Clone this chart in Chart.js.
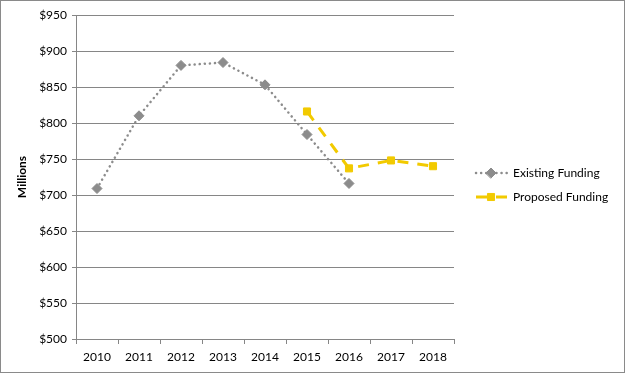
<!DOCTYPE html>
<html>
<head>
<meta charset="utf-8">
<script src="https://cdn.jsdelivr.net/npm/chart.js@4"></script>
<style>
    body { margin: 0; background: #fff; }
</style>
</head>
<body>
<canvas id="grafico" width="625" height="373"></canvas>
<script>
const years = ['2010', '2011', '2012', '2013', '2014', '2015', '2016', '2017', '2018'];
const existingFunding = [709, 810, 880, 884, 853, 784, 716, null, null];
const proposedFunding = [null, null, null, null, null, 816, 737, 748, 740];
const yTicks = [500, 550, 600, 650, 700, 750, 800, 850, 900, 950];

const cinza = '#8c8c8c';
const amarelo = '#F2CA00';
const linhaGrade = '#868686';
const fonte = 'Lato, "Open Sans", sans-serif';

// legenda desenhada a mao (linha + marcador)
const legendaPlugin = {
    id: 'legenda',
    afterDraw(chart) {
        const ctx = chart.ctx;
        ctx.save();
        // borda externa
        ctx.strokeStyle = '#8a8a8a';
        ctx.lineWidth = 1;
        ctx.strokeRect(0.5, 0.5, 624, 372);

        chart.data.datasets.forEach((ds, i) => {
            const y = 173 + i * 24;
            ctx.strokeStyle = ds.borderColor;
            ctx.lineWidth = ds.borderWidth;
            ctx.setLineDash(ds.borderDash);
            ctx.lineCap = ds.borderCapStyle;
            ctx.beginPath();
            ctx.moveTo(476, y);
            ctx.lineTo(507, y);
            ctx.stroke();
            ctx.setLineDash([]);
            ctx.fillStyle = ds.backgroundColor;
            ctx.strokeStyle = ds.borderColor;
            ctx.lineWidth = 1;
            Chart.helpers.drawPoint(ctx, {
                pointStyle: ds.pointStyle,
                radius: ds.pointRadius,
                rotation: 0,
                borderWidth: 1
            }, 491, y);
            ctx.fillStyle = '#000';
            ctx.font = '12px ' + fonte;
            ctx.textBaseline = 'middle';
            ctx.fillText(ds.label, 513, y);
        });
        ctx.restore();
    }
};

new Chart(document.getElementById('grafico'), {
    type: 'line',

    data: {
        labels: years,

        datasets: [{
            label: 'Existing Funding',
            data: existingFunding,
            borderColor: cinza,
            backgroundColor: cinza,
            borderWidth: 2.5,
            borderDash: [0.1, 5],
            borderCapStyle: 'round',
            pointStyle: 'rectRot',
            pointRadius: 5,
            pointBorderWidth: 1,
            pointHoverRadius: 5,
            tension: 0
        }, {
            label: 'Proposed Funding',
            data: proposedFunding,
            borderColor: amarelo,
            backgroundColor: amarelo,
            borderWidth: 3,
            borderDash: [11, 9],
            borderCapStyle: 'butt',
            pointStyle: 'rect',
            pointRadius: 5,
            pointBorderWidth: 1,
            pointHoverRadius: 5,
            tension: 0
        }]
    },

    options: {
        responsive: false,
        animation: false,
        devicePixelRatio: 1,
        spanGaps: false,
        layout: {
            padding: { top: 15, right: 171, left: 0, bottom: 0 }
        },
        plugins: {
            legend: { display: false },
            tooltip: { enabled: false }
        },

        scales: {
            x: {
                offset: true,
                afterFit(scale) { scale.height = 34; },
                ticks: {
                    color: '#000',
                    padding: 6,
                    font: { family: fonte, size: 12 }
                },
                grid: {
                    offset: true,
                    drawOnChartArea: false,
                    color: linhaGrade,
                    tickLength: 5
                },
                border: { color: linhaGrade }
            },

            y: {
                min: 500,
                max: 950,
                afterFit(scale) { scale.width = 76; },
                afterBuildTicks(scale) {
                    scale.ticks = yTicks.map(v => ({ value: v }));
                },
                title: {
                    display: true,
                    text: 'Millions',
                    color: '#000',
                    padding: { top: 15, bottom: 4 },
                    font: { family: fonte, size: 12, weight: 'bold' }
                },
                ticks: {
                    color: '#000',
                    padding: 5,
                    callback: v => '$' + v,
                    font: { family: fonte, size: 12 }
                },
                grid: {
                    color: linhaGrade,
                    tickLength: 4
                },
                border: { color: linhaGrade }
            }
        }
    },

    plugins: [legendaPlugin]
});
</script>
</body>
</html>
